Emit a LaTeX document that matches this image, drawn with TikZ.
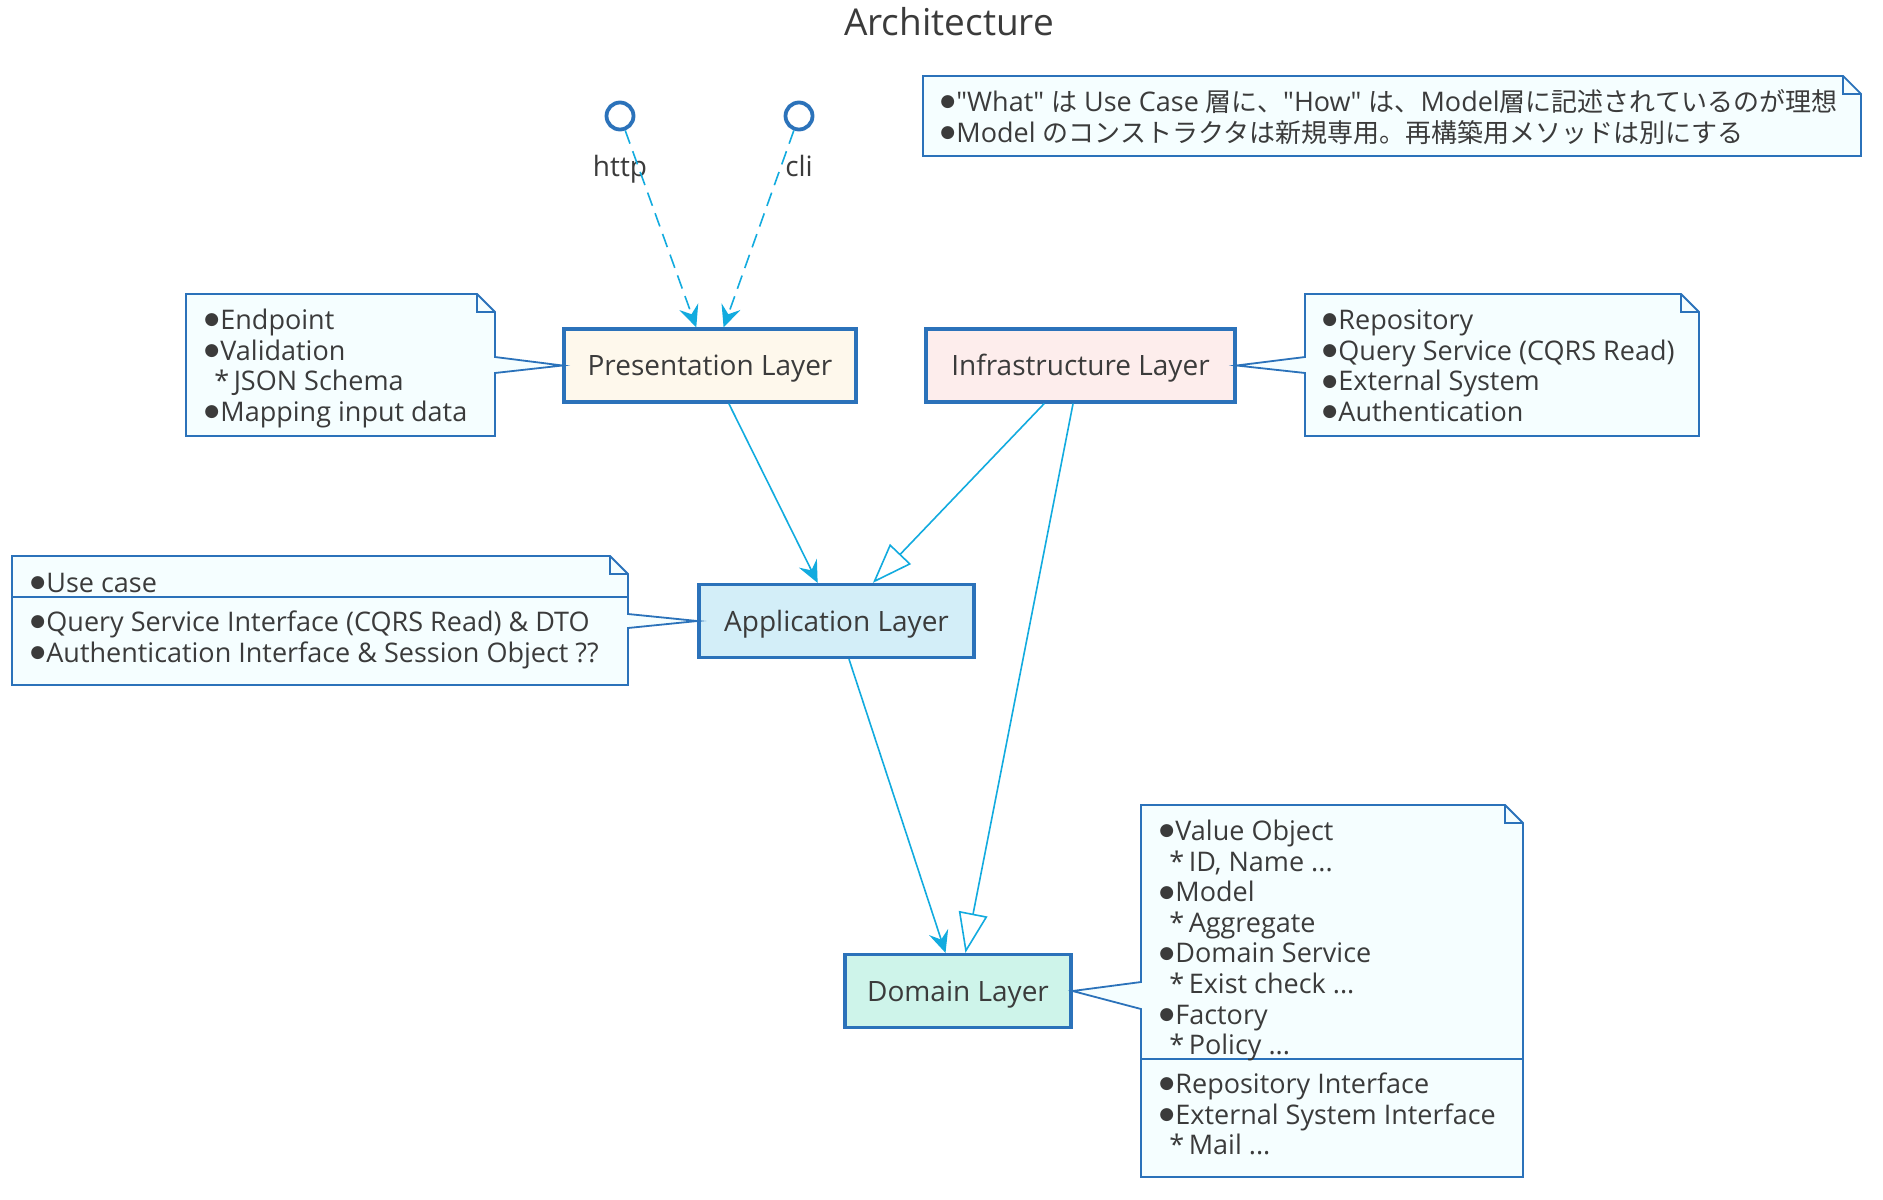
\documentclass[tikz,border=0pt]{standalone}
\usepackage{fontspec}
\setmainfont{Open Sans}
\newfontfamily\jpfont{Noto Sans CJK JP}
\newfontfamily\symfont{DejaVu Sans}
\usepackage{xcolor}
\usetikzlibrary{arrows.meta, positioning}
\definecolor{lineBlue}{HTML}{2B72BA}
\definecolor{edgeCyan}{HTML}{12ABDF}
\definecolor{textGray}{HTML}{3B3B3B}
\definecolor{presFill}{HTML}{FEF8EC}
\definecolor{infraFill}{HTML}{FDEDEC}
\definecolor{appFill}{HTML}{D3EEF8}
\definecolor{domFill}{HTML}{CEF4EA}
\definecolor{noteFill}{HTML}{F5FEFF}
\newcommand{\boxfont}{\fontsize{14}{15.3}\selectfont}
\newcommand{\notefont}{\fontsize{13.5}{15.3}\selectfont}
\newcommand{\titlefont}{\fontsize{18.5}{20}\selectfont}
\newcommand{\ja}[1]{{\jpfont\fontsize{13}{15.3}\selectfont #1}}
\newcommand{\dq}{\XeTeXglyph\XeTeXglyphindex "quotedbl"\relax}
\newcommand{\topline}{\rule{0pt}{13pt}}
\newcommand{\bul}{\makebox[8pt][l]{\raisebox{2.3pt}{\symfont\fontsize{8.5}{8.5}\selectfont ●}}}
\newcommand{\subline}{\hspace*{5pt}*\,}
\tikzset{
  layerBox/.style={draw=lineBlue, line width=1.6pt, inner sep=0pt,
                   minimum height=36.5pt, font=\boxfont, text=textGray,
                   text height=10pt, text depth=0pt},
  presBox/.style={layerBox, fill=presFill, minimum width=146pt},
  infraBox/.style={layerBox, fill=infraFill, minimum width=154.5pt},
  appBox/.style={layerBox, fill=appFill, minimum width=137.5pt},
  domBox/.style={layerBox, fill=domFill, minimum width=113pt},
  iface/.style={circle, draw=lineBlue, fill=white, line width=1.9pt,
                minimum size=13.5pt, inner sep=0pt},
  ifaceLabel/.style={font=\boxfont, text=textGray, inner sep=0pt, anchor=base},
  noteShape/.style={draw=lineBlue, fill=noteFill, line width=0.9pt},
  noteFold/.style={draw=lineBlue, line width=0.9pt},
  noteText/.style={anchor=north west, inner sep=0pt, align=left,
                   font=\notefont, text=textGray},
  useEdge/.style={draw=edgeCyan, line width=0.8pt,
                  -{Stealth[length=11pt, width=10pt, inset=4pt]}},
  callEdge/.style={useEdge, dash pattern=on 7pt off 4pt},
  implEdge/.style={draw=edgeCyan, line width=0.8pt,
                   -{Triangle[length=20pt, width=14.5pt, fill=white]}},
}
\begin{document}
\begin{tikzpicture}[x=0.5pt, y=-0.5pt]
    \useasboundingbox (0,0) rectangle (1883,1199);
    \fill[white] (0,0) rectangle (1883,1199);
    \node[font=\titlefont, text=textGray] (title) at (949,22) {Architecture};
    %% interfaces
    \node[iface] (http) at (620,116) {};
    \node[iface] (cli)  at (799,116) {};
    \node[ifaceLabel] (httpLbl) at (620,176) {http};
    \node[ifaceLabel] (cliLbl)  at (799,176) {cli};
    %% layers
    \node[presBox]  (pres)  at (710,365.5)  {Presentation Layer};
    \node[infraBox] (infra) at (1080.5,365.5) {Infrastructure Layer};
    \node[appBox]   (app)   at (836.5,621)  {Application Layer};
    \node[domBox]   (dom)   at (958,991)    {Domain Layer};
    %% dependencies
    \draw[callEdge] (http) -- (pres);
    \draw[callEdge] (cli) -- (pres);
    \draw[useEdge]  (pres) -- (app);
    \draw[implEdge] (infra) -- (app);
    \draw[implEdge] (infra) -- (dom);
    \draw[useEdge]  (app) -- (dom);
    %% floating note
    \draw[noteShape] (923,76) -- (1843,76) -- (1861,94) -- (1861,156)
                     -- (923,156) -- cycle;
    \draw[noteFold] (1843,76) -- (1843,94) -- (1861,94);
    \node[noteText] (noteTop) at (940,85) {%
      \topline\bul\dq What\dq\ \ja{は} Use Case \ja{層に、}\dq How\dq\ \ja{は、}Model\ja{層に記述されているのが理想}\\
      \bul Model \ja{のコンストラクタは新規専用。再構築用メソッドは別にする}};
    %% presentation note
    \draw[noteShape] (186,294) -- (477,294) -- (495,312) -- (495,357)
                     -- (pres.west) -- (495,373) -- (495,436) -- (186,436) -- cycle;
    \draw[noteFold] (477,294) -- (477,312) -- (495,312);
    \node[noteText] (notePres) at (204,303) {%
      \topline\bul Endpoint\\
      \bul Validation\\
      \subline JSON Schema\\
      \bul Mapping input data};
    %% infrastructure note
    \draw[noteShape] (1305,294) -- (1681,294) -- (1699,312) -- (1699,436)
                     -- (1305,436) -- (1305,373) -- (infra.east) -- (1305,357) -- cycle;
    \draw[noteFold] (1681,294) -- (1681,312) -- (1699,312);
    \node[noteText] (noteInfra) at (1322,303) {%
      \topline\bul Repository\\
      \bul Query Service (CQRS Read)\\
      \bul External System\\
      \bul Authentication};
    %% application note
    \draw[noteShape] (12,556) -- (610,556) -- (628,574) -- (628,614)
                     -- (app.west) -- (628,628) -- (628,685) -- (12,685) -- cycle;
    \draw[noteFold] (610,556) -- (610,574) -- (628,574);
    \draw[noteFold] (12,597) -- (628,597);
    \node[noteText] (noteAppA) at (30,566) {\topline\bul Use case};
    \node[noteText] (noteAppB) at (30,605) {%
      \topline\bul Query Service Interface (CQRS Read) \& DTO\\
      \bul Authentication Interface \& Session Object ??};
    %% domain note
    \draw[noteShape] (1141,805) -- (1505,805) -- (1523,823) -- (1523,1177)
                     -- (1141,1177) -- (1141,1009) -- (dom.east) -- (1141,982) -- cycle;
    \draw[noteFold] (1505,805) -- (1505,823) -- (1523,823);
    \draw[noteFold] (1141,1059) -- (1523,1059);
    \node[noteText] (noteDomA) at (1159,814) {%
      \topline\bul Value Object\\
      \subline ID, Name ...\\
      \bul Model\\
      \subline Aggregate\\
      \bul Domain Service\\
      \subline Exist check ...\\
      \bul Factory\\
      \subline Policy ...};
    \node[noteText] (noteDomB) at (1159,1067) {%
      \topline\bul Repository Interface\\
      \bul External System Interface\\
      \subline Mail ...};
  \end{tikzpicture}
\end{document}
